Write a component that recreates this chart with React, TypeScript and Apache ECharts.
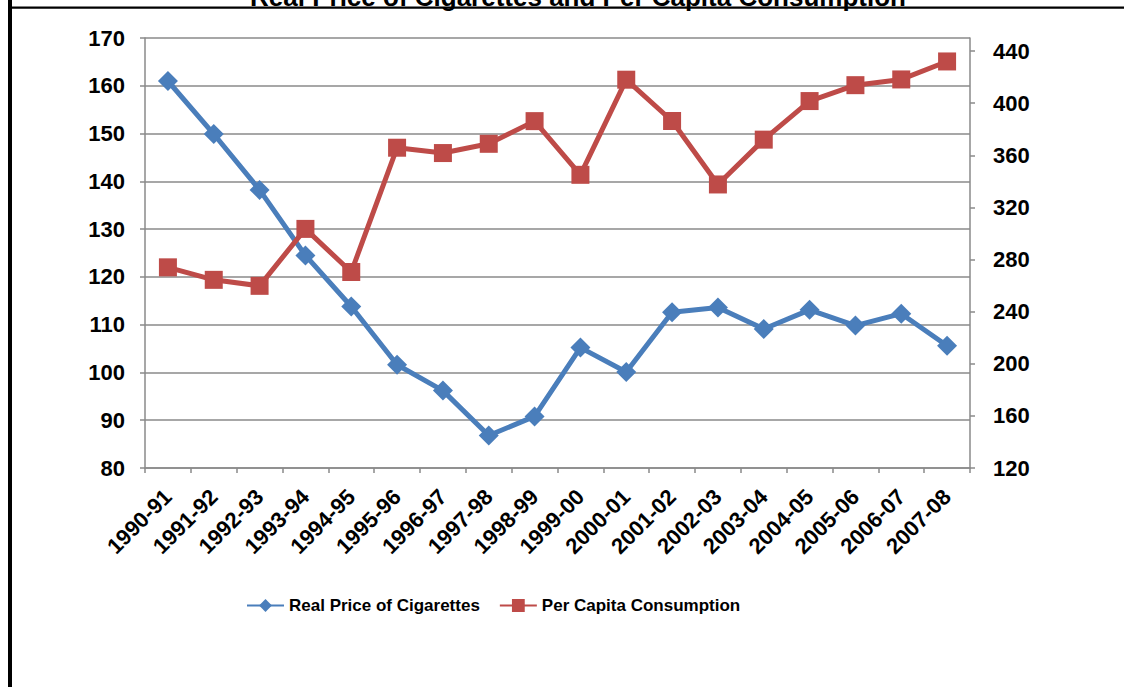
import React, { useEffect, useRef } from "react";
import * as echarts from "echarts";

// Fiscal years on the category axis
const years = [
  "1990-91", "1991-92", "1992-93", "1993-94", "1994-95", "1995-96",
  "1996-97", "1997-98", "1998-99", "1999-00", "2000-01", "2001-02",
  "2002-03", "2003-04", "2004-05", "2005-06", "2006-07", "2007-08",
];

// Real price index of cigarettes (left axis)
const realPrice = [
  161.0, 149.9, 138.2, 124.5, 113.8, 101.6, 96.2, 86.8, 90.8,
  105.2, 100.1, 112.6, 113.6, 109.1, 113.1, 109.8, 112.3, 105.6,
];

// Per capita cigarette consumption (right axis)
const perCapita = [
  274.0, 264.4, 259.8, 303.5, 270.4, 365.8, 361.7, 368.8, 386.2,
  345.0, 418.0, 386.3, 337.6, 372.0, 401.6, 413.8, 418.2, 432.0,
];

// Axis ranges and tick values
const leftMin = 80;
const leftMax = 170;
const leftStep = 10;
const rightMin = 120;
const rightMax = 450;
const rightTicks = [120, 160, 200, 240, 280, 320, 360, 400, 440];

const titleText = "Real Price of Cigarettes and Per Capita Consumption";
const priceName = "Real Price of Cigarettes";
const consumptionName = "Per Capita Consumption";

const BLUE = "#4A7EBB";
const RED = "#BE4B48";
const GRID = "#8a8a8a";
const FONT = "'Liberation Sans', Arial, Helvetica, sans-serif";

export default function App() {
  const ref = useRef<HTMLDivElement>(null);

  useEffect(() => {
    if (!ref.current) return;
    const chart = echarts.init(ref.current, undefined, { renderer: "svg" });

    const axisLabelStyle = {
      color: "#000",
      fontFamily: FONT,
      fontWeight: "bold" as const,
    };

    chart.setOption({
      animation: false,
      backgroundColor: "#fff",
      grid: { left: 145, right: 154, top: 38, bottom: 219, containLabel: false },
      graphic: [
        {
          type: "text",
          z: 10,
          style: {
            text: titleText,
            x: 578,
            y: 10,
            align: "center",
            verticalAlign: "bottom",
            fill: "#000",
            font: `bold 26px ${FONT}`,
          },
        },
        {
          type: "line",
          z: 20,
          shape: { x1: 10, y1: 7.7, x2: 1124, y2: 7.7 },
          style: { stroke: "#000", lineWidth: 2.2 },
        },
        {
          type: "line",
          z: 20,
          shape: { x1: 10, y1: 0, x2: 10, y2: 687 },
          style: { stroke: "#000", lineWidth: 4 },
        },
      ],
      legend: {
        left: 246,
        top: 597,
        padding: 0,
        itemWidth: 37,
        itemHeight: 16,
        itemGap: 19,
        textStyle: {
          color: "#000",
          fontFamily: FONT,
          fontWeight: "bold",
          fontSize: 17,
        },
        data: [priceName, consumptionName],
      },
      xAxis: {
        type: "category",
        data: years,
        boundaryGap: true,
        axisLine: { show: true, lineStyle: { color: GRID, width: 1.5 } },
        axisTick: { show: true, length: 5, lineStyle: { color: GRID, width: 1.5 } },
        axisLabel: {
          ...axisLabelStyle,
          fontSize: 22,
          interval: 0,
          rotate: 45,
          margin: 25,
        },
        splitLine: { show: false },
      },
      yAxis: [
        {
          type: "value",
          min: leftMin,
          max: leftMax,
          interval: leftStep,
          axisLine: { show: true, lineStyle: { color: GRID, width: 1.5 } },
          axisTick: { show: true, length: 5, lineStyle: { color: GRID, width: 1.5 } },
          axisLabel: { ...axisLabelStyle, fontSize: 22, margin: 20 },
          splitLine: { show: true, lineStyle: { color: GRID, width: 1.5 } },
        },
        {
          type: "value",
          min: rightMin,
          max: rightMax,
          position: "right",
          axisLine: { show: true, lineStyle: { color: GRID, width: 1.5 } },
          axisTick: {
            show: true,
            length: 5,
            customValues: rightTicks,
            lineStyle: { color: GRID, width: 1.5 },
          },
          axisLabel: { ...axisLabelStyle, fontSize: 22, margin: 23, customValues: rightTicks },
          splitLine: { show: false },
        },
      ],
      series: [
        {
          name: priceName,
          type: "line",
          yAxisIndex: 0,
          data: realPrice,
          symbol: "diamond",
          symbolSize: [20, 20],
          color: BLUE,
          lineStyle: { color: BLUE, width: 5 },
          itemStyle: { color: BLUE },
        },
        {
          name: consumptionName,
          type: "line",
          yAxisIndex: 1,
          data: perCapita,
          symbol: "rect",
          symbolSize: [18, 18],
          color: RED,
          lineStyle: { color: RED, width: 5 },
          itemStyle: { color: RED },
        },
      ],
    });

    return () => chart.dispose();
  }, []);

  return (
    <div
      ref={ref}
      style={{ position: "fixed", left: 0, top: 0, width: 1124, height: 687, background: "#fff" }}
    />
  );
}
